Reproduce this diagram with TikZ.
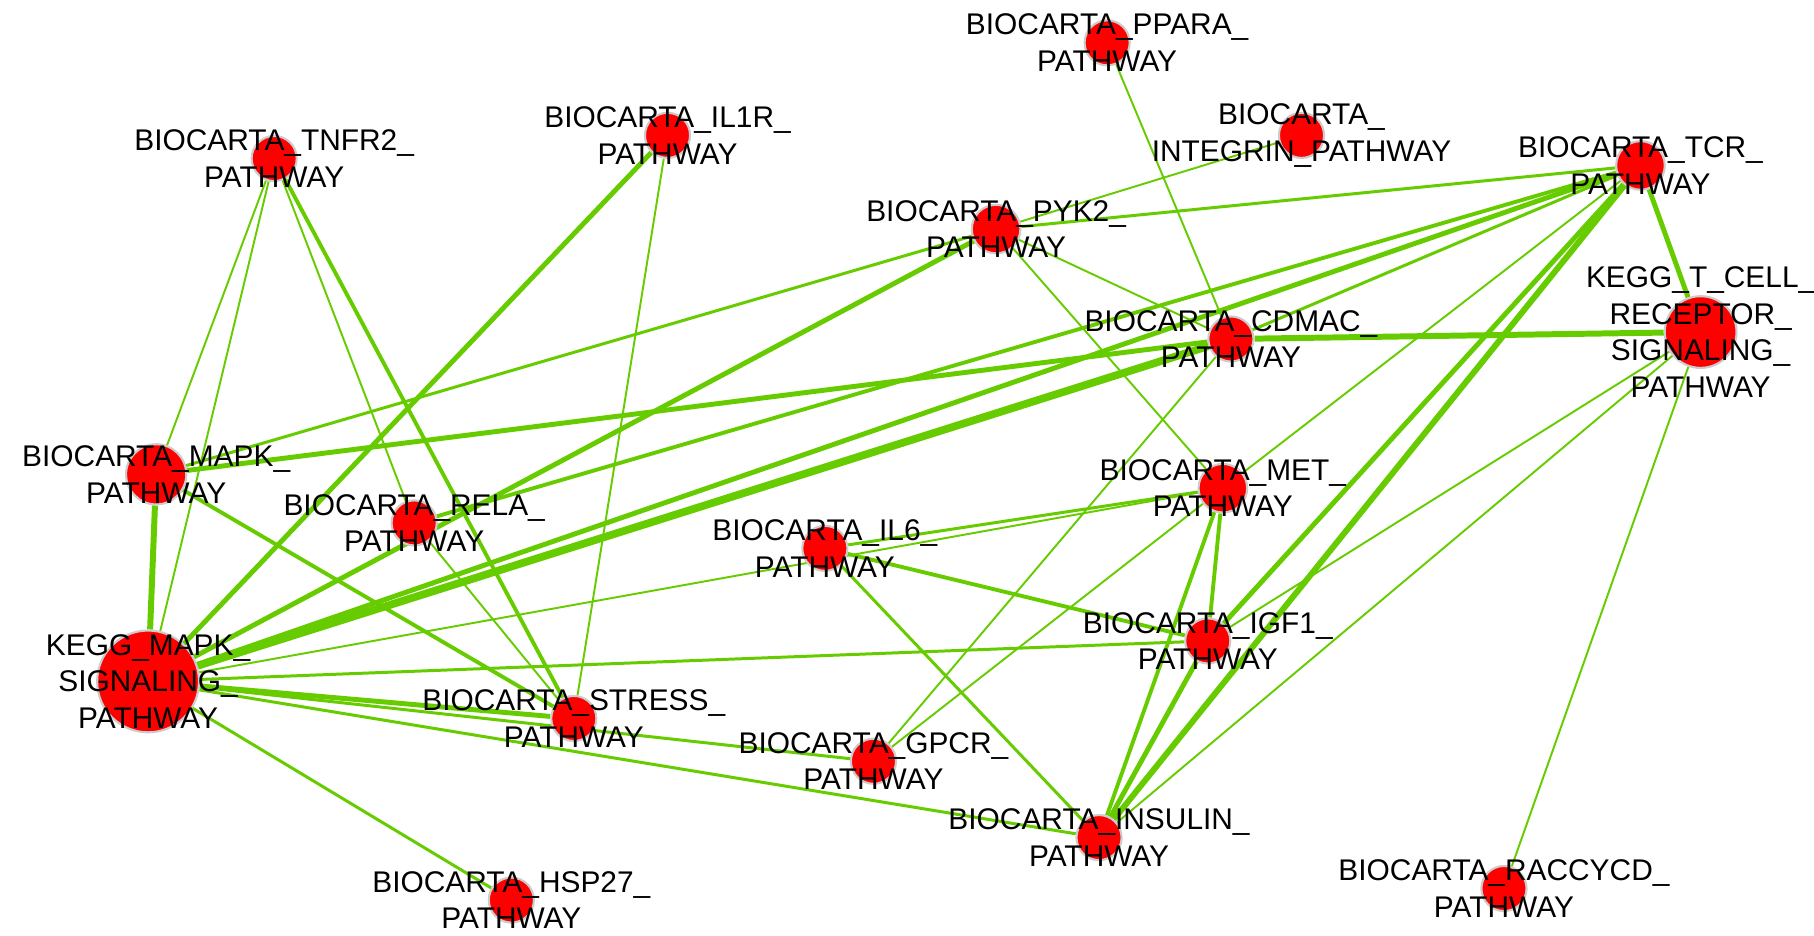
\documentclass[tikz,border=0pt]{standalone}
\usepackage{fontspec}
\setmainfont{Liberation Sans}
\usetikzlibrary{backgrounds}
\definecolor{edgegreen}{RGB}{102,204,0}
\definecolor{nodered}{RGB}{255,0,0}
\begin{document}
\begin{tikzpicture}[x=0.01157cm,y=-0.01157cm,
  pnode/.style={circle,fill=nodered,draw=black!20,line width=0.6pt,inner sep=0pt,minimum size=#1},
  pnode/.default=4.51mm,
  lbl/.style={font=\fontsize{8.5}{10.4}\selectfont,align=center,inner sep=0pt,text=black},
  ed/.style={draw=edgegreen,line width=#1},
  thin/.style={ed=0.55pt},
  med/.style={ed=0.85pt},
  mthick/.style={ed=1.1pt},
  thick/.style={ed=1.4pt},
  vthick/.style={ed=1.7pt},
  xthick/.style={ed=2.2pt}]
\useasboundingbox (0,0) rectangle (1568,809);
% nodes
\node[pnode] (ppara) at (957,37) {};
\node[pnode] (il1r) at (577,117) {};
\node[pnode] (tnfr2) at (237,137) {};
\node[pnode] (integrin) at (1125,117) {};
\node[pnode=4.86mm] (tcr) at (1418,143) {};
\node[pnode=4.86mm] (pyk2) at (861,198) {};
\node[pnode] (cdmac) at (1064,293) {};
\node[pnode=7.17mm] (tcell) at (1470,287) {};
\node[pnode=6.02mm] (mapk) at (135,410) {};
\node[pnode] (rela) at (358,452) {};
\node[pnode=4.86mm] (met) at (1057,422) {};
\node[pnode] (il6) at (713,474) {};
\node[pnode=10.18mm] (kmapk) at (128,589) {};
\node[pnode] (igf1) at (1044,554) {};
\node[pnode] (stress) at (496,621) {};
\node[pnode] (gpcr) at (755,658) {};
\node[pnode] (insulin) at (950,724) {};
\node[pnode] (hsp27) at (442,778) {};
\node[pnode] (raccycd) at (1300,768) {};
% edges
\begin{pgfonlayer}{background}
\draw[thin] (tnfr2) -- (mapk);
\draw[thin] (tnfr2) -- (kmapk);
\draw[thin] (tnfr2) -- (rela);
\draw[mthick] (tnfr2) -- (stress);
\draw[thick] (il1r) -- (kmapk);
\draw[thin] (il1r) -- (stress);
\draw[thin] (ppara) -- (cdmac);
\draw[thin] (integrin) -- (pyk2);
\draw[med] (pyk2) -- (tcr);
\draw[med] (pyk2) -- (mapk);
\draw[thick] (pyk2) -- (kmapk);
\draw[thin] (pyk2) -- (cdmac);
\draw[thin] (pyk2) -- (met);
\draw[thick] (tcr) -- (tcell);
\draw[med] (tcr) -- (cdmac);
\draw[mthick] (tcr) -- (rela);
\draw[thick] (tcr) -- (kmapk);
\draw[thin] (tcr) -- (met);
\draw[thick] (tcr) -- (igf1);
\draw[vthick] (tcr) -- (insulin);
\draw[vthick] (cdmac) -- (tcell);
\draw[xthick] (cdmac) -- (kmapk);
\draw[thick] (cdmac) -- (mapk);
\draw[thin] (cdmac) -- (gpcr);
\draw[thin] (tcell) -- (igf1);
\draw[thin] (tcell) -- (insulin);
\draw[thin] (tcell) -- (raccycd);
\draw[vthick] (mapk) -- (kmapk);
\draw[mthick] (mapk) -- (stress);
\draw[thin] (rela) -- (stress);
\draw[med] (met) -- (il6);
\draw[thin] (met) -- (kmapk);
\draw[thin] (met) -- (gpcr);
\draw[mthick] (met) -- (igf1);
\draw[mthick] (met) -- (insulin);
\draw[mthick] (il6) -- (igf1);
\draw[med] (il6) -- (insulin);
\draw[med] (kmapk) -- (igf1);
\draw[thick] (kmapk) -- (stress);
\draw[med] (kmapk) -- (gpcr);
\draw[med] (kmapk) -- (insulin);
\draw[med] (kmapk) -- (hsp27);
\draw[thick] (igf1) -- (insulin);
\end{pgfonlayer}
% labels
\node[lbl] (lppara) at (ppara) {BIOCARTA\_PPARA\_\\PATHWAY};
\node[lbl] (lil1r) at (il1r) {BIOCARTA\_IL1R\_\\PATHWAY};
\node[lbl] (ltnfr2) at (tnfr2) {BIOCARTA\_TNFR2\_\\PATHWAY};
\node[lbl] (lintegrin) at (integrin) {BIOCARTA\_\\INTEGRIN\_PATHWAY};
\node[lbl] (ltcr) at (tcr) {BIOCARTA\_TCR\_\\PATHWAY};
\node[lbl] (lpyk2) at (pyk2) {BIOCARTA\_PYK2\_\\PATHWAY};
\node[lbl] (lcdmac) at (cdmac) {BIOCARTA\_CDMAC\_\\PATHWAY};
\node[lbl] (ltcell) at (tcell) {KEGG\_T\_CELL\_\\RECEPTOR\_\\SIGNALING\_\\PATHWAY};
\node[lbl] (lmapk) at (mapk) {BIOCARTA\_MAPK\_\\PATHWAY};
\node[lbl] (lrela) at (rela) {BIOCARTA\_RELA\_\\PATHWAY};
\node[lbl] (lmet) at (met) {BIOCARTA\_MET\_\\PATHWAY};
\node[lbl] (lil6) at (il6) {BIOCARTA\_IL6\_\\PATHWAY};
\node[lbl] (lkmapk) at (kmapk) {KEGG\_MAPK\_\\SIGNALING\_\\PATHWAY};
\node[lbl] (ligf1) at (igf1) {BIOCARTA\_IGF1\_\\PATHWAY};
\node[lbl] (lstress) at (stress) {BIOCARTA\_STRESS\_\\PATHWAY};
\node[lbl] (lgpcr) at (gpcr) {BIOCARTA\_GPCR\_\\PATHWAY};
\node[lbl] (linsulin) at (insulin) {BIOCARTA\_INSULIN\_\\PATHWAY};
\node[lbl] (lhsp27) at (hsp27) {BIOCARTA\_HSP27\_\\PATHWAY};
\node[lbl] (lraccycd) at (raccycd) {BIOCARTA\_RACCYCD\_\\PATHWAY};
\end{tikzpicture}
\end{document}
